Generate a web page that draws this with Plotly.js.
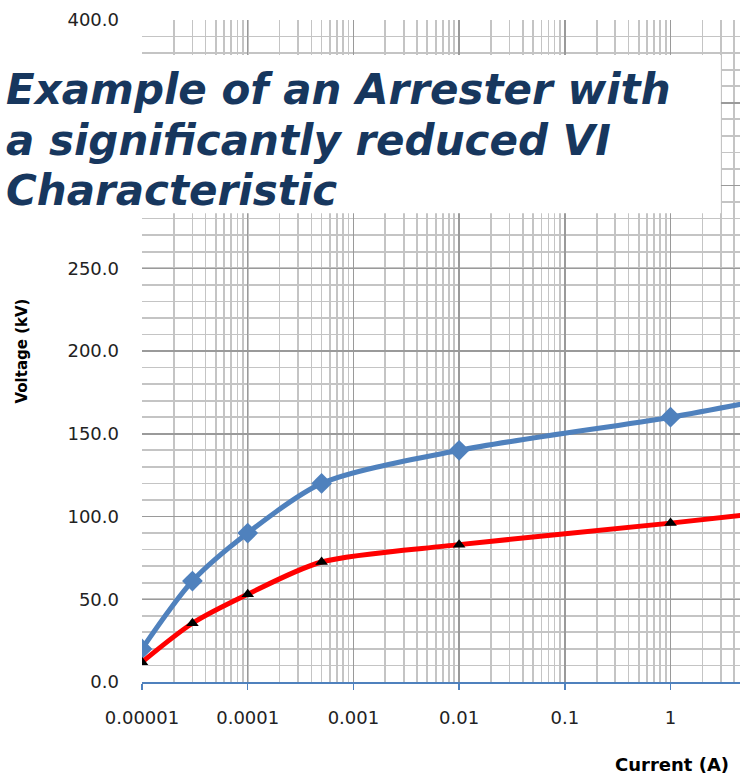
<!DOCTYPE html>
<html>
<head>
<meta charset="utf-8">
<script src="https://cdn.plot.ly/plotly-3.0.1.min.js"></script>
<style>html,body{margin:0;padding:0;background:#fff;}#chart{width:740px;height:774px;}</style>
</head>
<body>
<div id="chart"></div>
<script>
// Data
const currentA = [0.00001, 0.00003, 0.0001, 0.0005, 0.01, 1, 10];
const voltageStandard = [20, 61, 90, 120, 140, 160, 172];
const voltageReduced = [12, 35.5, 53, 72.5, 83, 96, 103];
const xTickVals = [0.00001, 0.0001, 0.001, 0.01, 0.1, 1];
const xTickText = ["0.00001", "0.0001", "0.001", "0.01", "0.1", "1"];
const yTickVals = [0, 50, 100, 150, 200, 250, 300, 350, 400];
// 300.0 and 350.0 are hidden behind the title box in the reference
const yTickText = ["0.0", "50.0", "100.0", "150.0", "200.0", "250.0", "", "", "400.0"];
const titleLines = ["Example of an Arrester with", "a significantly reduced VI", "Characteristic"];

const traces = [
  {
    x: currentA, y: voltageStandard, type: 'scatter', mode: 'lines+markers',
    line: {color: '#4F81BD', width: 5, shape: 'spline', smoothing: 0.8},
    marker: {symbol: 'diamond', size: 16, color: '#4F81BD'},
    showlegend: false
  },
  {
    x: currentA, y: voltageReduced, type: 'scatter', mode: 'lines+markers',
    line: {color: '#FF0000', width: 5, shape: 'spline', smoothing: 0.8},
    marker: {symbol: 'triangle-up', size: 11, color: '#000000'},
    showlegend: false
  }
];

const fam = 'DejaVu Sans, Verdana, sans-serif';
const tickFont = {family: fam, size: 18, color: '#222'};

const titleY = [0.895, 0.818, 0.742];
const titleAnnots = titleLines.map((t, i) => ({
  text: '<b><i>' + t + '</i></b>', xref: 'paper', yref: 'paper',
  x: -0.231, y: titleY[i], xanchor: 'left', yanchor: 'middle', align: 'left',
  showarrow: false, font: {family: fam, size: 42, color: '#17375E'}
}));

const layout = {
  width: 740, height: 774,
  margin: {l: 142, r: 0, t: 20, b: 92},
  paper_bgcolor: '#ffffff', plot_bgcolor: '#ffffff',
  xaxis: {
    type: 'log', range: [-5, 0.657],
    tickvals: xTickVals, ticktext: xTickText,
    tickfont: tickFont,
    ticks: 'outside', ticklen: 6, tickcolor: '#4F81BD', tickwidth: 1.5,
    ticklabelstandoff: 13,
    showline: true, linecolor: '#4F81BD', linewidth: 1.5,
    showgrid: true, gridcolor: '#9a9a9a', gridwidth: 1.5,
    minor: {dtick: 'D1', showgrid: true, gridcolor: '#c4c4c4', gridwidth: 1.7, ticks: ''},
    zeroline: false
  },
  yaxis: {
    range: [0, 400], tickvals: yTickVals, ticktext: yTickText,
    tickfont: tickFont,
    ticks: '', ticklabelstandoff: 22,
    showline: false,
    showgrid: true, gridcolor: '#9a9a9a', gridwidth: 1.5,
    minor: {dtick: 10, showgrid: true, gridcolor: '#c4c4c4', gridwidth: 1.7},
    zeroline: false,
    title: {text: '<b>Voltage (kV)</b>', font: {family: fam, size: 15, color: '#000'}, standoff: 36}
  },
  shapes: [
    {type: 'rect', xref: 'paper', yref: 'paper', layer: 'above',
     x0: -0.24, x1: 0.968, y0: 0.708, y1: 0.947,
     fillcolor: '#ffffff', line: {width: 0}}
  ],
  annotations: titleAnnots.concat([
    {text: '<b>Current (A)</b>', xref: 'paper', yref: 'paper', x: 0.985, y: -0.124,
     xanchor: 'right', yanchor: 'middle', showarrow: false,
     font: {family: fam, size: 18, color: '#000'}}
  ])
};

Plotly.newPlot('chart', traces, layout, {staticPlot: true, displayModeBar: false});
</script>
</body>
</html>
